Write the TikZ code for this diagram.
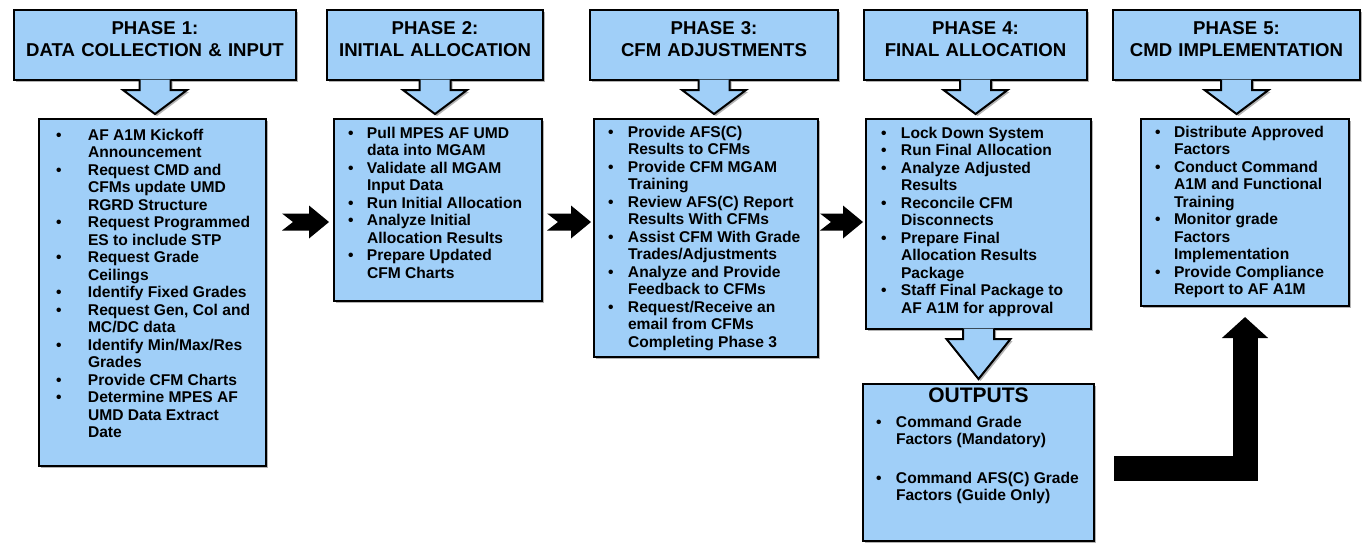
\documentclass[tikz,border=0pt]{standalone}
\usepackage{fontspec}
\setmainfont{Liberation Sans}
\usetikzlibrary{positioning,calc,shadows,arrows.meta}
\tikzset{>=latex}
\definecolor{boxblue}{RGB}{160,207,248}
\newlength{\bulx}
\newlength{\txtx}
\newcommand{\itm}[1]{\par\hangindent=\txtx\hangafter=1\noindent\makebox[\txtx][l]{\hspace{\bulx}\textbullet}#1\par}
\newcommand{\headpad}{\par\vspace{12pt}}
\tikzstyle{node_head}=[draw=black, line width=2pt, fill=boxblue, inner xsep=0pt, minimum height=70pt, align=center,
    font=\fontsize{18.6}{22.5}\selectfont\bfseries, execute at end node=\headpad,
    drop shadow={shadow xshift=2pt, shadow yshift=-2pt, opacity=.6}]
\tikzstyle{node_body}=[draw=black, line width=2pt, fill=boxblue, inner sep=0pt, anchor=north west,
    font=\fontsize{15.6}{17.5}\selectfont\bfseries,
    drop shadow={shadow xshift=2pt, shadow yshift=-2pt, opacity=.6}]
\tikzstyle{callout}=[draw=black, line width=2pt, fill=boxblue, line join=miter,
    drop shadow={shadow xshift=2pt, shadow yshift=-2pt, opacity=.6}]
\tikzstyle{side_arrow}=[fill=black]
\tikzstyle{elbow_arrow}=[line width=25pt, black, line join=miter, -{Triangle[length=21pt,width=45pt]},
    shorten <=19pt, shorten >=10pt]

\begin{document}
\begin{tikzpicture}[x=1pt, y=-1pt]
\useasboundingbox (0,0) rectangle (1364,542);

% phase headers
\node[node_head, text width=282pt] (h1) at (155,45) {PHASE 1:\\DATA COLLECTION \& INPUT};
\node[node_head, text width=216pt] (h2) at (435,45) {PHASE 2:\\INITIAL ALLOCATION};
\node[node_head, text width=248pt] (h3) at (714,45) {PHASE 3:\\CFM ADJUSTMENTS};
\node[node_head, text width=223pt] (h4) at (975.5,45) {PHASE 4:\\FINAL ALLOCATION};
\node[node_head, text width=247pt] (h5) at (1236.5,45) {PHASE 5:\\CMD IMPLEMENTATION};

% phase tasks
\node[node_body] (b1) at (38,118) {\parbox[t][347pt][t]{227pt}{\setlength{\bulx}{17pt}\setlength{\txtx}{49pt}\vspace*{10pt}
    \itm{AF A1M Kickoff\\Announcement}
    \itm{Request CMD and\\CFMs update UMD\\RGRD Structure}
    \itm{Request Programmed\\ES to include STP}
    \itm{Request Grade\\Ceilings}
    \itm{Identify Fixed Grades}
    \itm{Request Gen, Col and\\MC/DC data}
    \itm{Identify Min/Max/Res\\Grades}
    \itm{Provide CFM Charts}
    \itm{Determine MPES AF\\UMD Data Extract\\Date}}};
\node[node_body] (b2) at (333,118) {\parbox[t][182pt][t]{208pt}{\setlength{\bulx}{14pt}\setlength{\txtx}{33pt}\vspace*{8pt}
    \itm{Pull MPES AF UMD\\data into MGAM}
    \itm{Validate all MGAM\\Input Data}
    \itm{Run Initial Allocation}
    \itm{Analyze Initial\\Allocation Results}
    \itm{Prepare Updated\\CFM Charts}}};
\node[node_body] (b3) at (593,118) {\parbox[t][238pt][t]{224pt}{\setlength{\bulx}{14pt}\setlength{\txtx}{34pt}\vspace*{7pt}
    \itm{Provide AFS(C)\\Results to CFMs}
    \itm{Provide CFM MGAM\\Training}
    \itm{Review AFS(C) Report\\Results With CFMs}
    \itm{Assist CFM With Grade\\Trades/Adjustments}
    \itm{Analyze and Provide\\Feedback to CFMs}
    \itm{Request/Receive an\\email from CFMs\\Completing Phase 3}}};
\node[node_body] (b4) at (865,118) {\parbox[t][210pt][t]{225pt}{\setlength{\bulx}{15pt}\setlength{\txtx}{35pt}\vspace*{8pt}
    \itm{Lock Down System}
    \itm{Run Final Allocation}
    \itm{Analyze Adjusted\\Results}
    \itm{Reconcile CFM\\Disconnects}
    \itm{Prepare Final\\Allocation Results\\Package}
    \itm{Staff Final Package to\\AF A1M for approval}}};
\node[node_body] (b5) at (1140,118) {\parbox[t][187pt][t]{208pt}{\setlength{\bulx}{14pt}\setlength{\txtx}{33pt}\vspace*{7pt}
    \itm{Distribute Approved\\Factors}
    \itm{Conduct Command\\A1M and Functional\\Training}
    \itm{Monitor grade\\Factors\\Implementation}
    \itm{Provide Compliance\\Report to AF A1M}}};

% outputs
\node[node_body] (out) at (862,383) {\parbox[t][157pt][t]{231pt}{\setlength{\bulx}{13pt}\setlength{\txtx}{33pt}\vspace*{4pt}
    {\centering\fontsize{21}{22}\selectfont OUTPUTS\par}\vspace{7pt}
    \itm{Command Grade\\Factors (Mandatory)}\vspace{21pt}
    \itm{Command AFS(C) Grade\\Factors (Guide Only)}}};

% down arrows of the callouts
\foreach \h/\b in {h1/b1,h2/b2,h3/b3,h4/b4,h5/b5,b4/out}
    \draw[callout] ($(\h.south)+(-15.5,-1.5)$) -- ($(\h.south)+(-15.5,9)$) -- ($(\h.south)+(-32,9)$)
        -- ($(\h.south|-\b.north)+(0,-4)$) -- ($(\h.south)+(32,9)$) -- ($(\h.south)+(15.5,9)$)
        -- ($(\h.south)+(15.5,-1.5)$);

% arrows between phases
\coordinate (ay) at (0,222);
\foreach \a/\b/\s/\e in {b1/b2/15/4, b2/b3/4/2, b3/b4/1/2}
    \fill[side_arrow] ($(\a.east|-ay)+(\s,-8.5)$) -- ($(\b.west|-ay)+(-\e-20,-8.5)$) -- ($(\b.west|-ay)+(-\e-20,-16.5)$)
        -- ($(\b.west|-ay)+(-\e,0)$) -- ($(\b.west|-ay)+(-\e-20,16.5)$) -- ($(\b.west|-ay)+(-\e-20,8.5)$)
        -- ($(\a.east|-ay)+(\s,8.5)$) -- ($(\a.east|-ay)+(\s+11,0)$) -- cycle;

\draw[elbow_arrow] ([yshift=-6pt]out.east) -| (b5.south);

\end{tikzpicture}
\end{document}
